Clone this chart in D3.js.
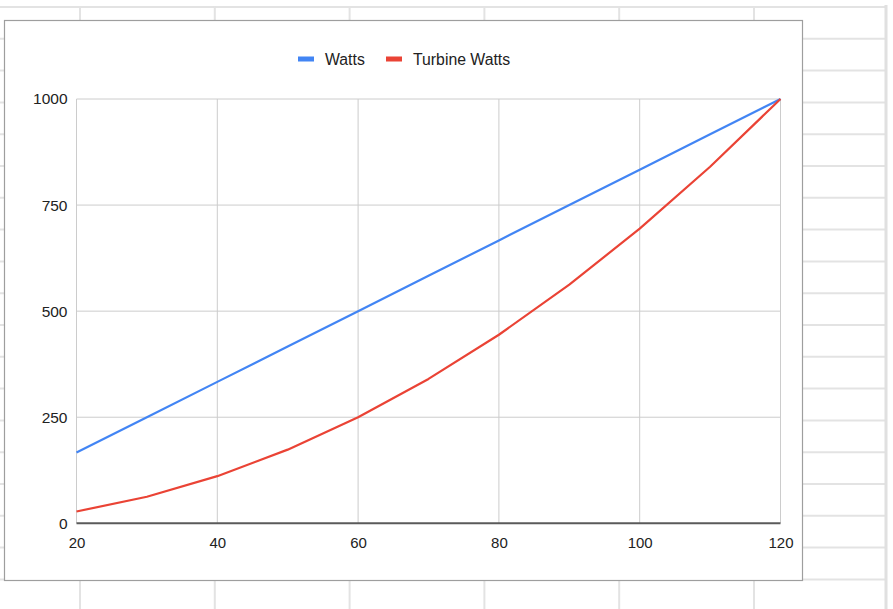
<!DOCTYPE html>
<html>
<head>
<meta charset="utf-8">
<script src="https://cdn.jsdelivr.net/npm/d3@7"></script>
<style>
  html, body { margin: 0; padding: 0; background: #fff; }
  svg { display: block; }
  text { font-family: Arial, "Liberation Sans", sans-serif; }
</style>
</head>
<body>
<svg id="chart" width="893" height="609"></svg>
<script>
// ---- data ----
const speeds = [20, 30, 40, 50, 60, 70, 80, 90, 100, 110, 120];
const watts = [166.7, 250, 333.3, 416.7, 500, 583.3, 666.7, 750, 833.3, 916.7, 1000];
const turbineWatts = [27.8, 62.5, 111.1, 173.6, 250, 340.3, 444.4, 562.5, 694.4, 840.3, 1000];
const seriesNames = ["Watts", "Turbine Watts"];
const xTicks = [20, 40, 60, 80, 100, 120];
const yTicks = [0, 250, 500, 750, 1000];

const colors = ["#4285F4", "#EA4335"];

const svg = d3.select("#chart");

// ---- spreadsheet background ----
const bg = svg.append("g");
const rowTop = 7, rowH = 31.8, nRows = 18;
for (let k = 0; k <= nRows; k++) {
  bg.append("line")
    .attr("x1", 0).attr("x2", 886)
    .attr("y1", rowTop + k * rowH).attr("y2", rowTop + k * rowH)
    .attr("stroke", "#e3e3e3").attr("stroke-width", 2);
}
const colLeft = 80, colW = 134.8;
for (let j = 0; j < 6; j++) {
  bg.append("line")
    .attr("x1", colLeft + j * colW).attr("x2", colLeft + j * colW)
    .attr("y1", 6).attr("y2", 609)
    .attr("stroke", "#e3e3e3").attr("stroke-width", 2);
}
bg.append("line")
  .attr("x1", 886).attr("x2", 886).attr("y1", 5).attr("y2", 609)
  .attr("stroke", "#e0e0e0").attr("stroke-width", 3);

// ---- chart box ----
svg.append("rect")
  .attr("x", 4.5).attr("y", 20.5).attr("width", 798).attr("height", 560)
  .attr("fill", "#fff").attr("stroke", "#9e9e9e").attr("stroke-width", 1.2);

// ---- scales ----
const x = d3.scaleLinear().domain([20, 120]).range([76.5, 780.5]);
const y = d3.scaleLinear().domain([0, 1000]).range([523.3, 99]);

const g = svg.append("g");

// gridlines
g.append("g").selectAll("line").data(xTicks).join("line")
  .attr("x1", d => x(d)).attr("x2", d => x(d))
  .attr("y1", y(1000)).attr("y2", y(0))
  .attr("stroke", "#cccccc").attr("stroke-width", 1);
g.append("g").selectAll("line").data(yTicks.filter(d => d > 0)).join("line")
  .attr("x1", x(20)).attr("x2", x(120))
  .attr("y1", d => y(d)).attr("y2", d => y(d))
  .attr("stroke", "#cccccc").attr("stroke-width", 1);

// axes labels via d3 axes
const xAxis = d3.axisBottom(x).tickValues(xTicks).tickSize(0).tickPadding(14).tickFormat(d3.format("d"));
const xg = g.append("g").attr("transform", `translate(0,${y(0)})`).call(xAxis);
xg.select(".domain").remove();
xg.selectAll("text").attr("font-size", 15).attr("fill", "#222").attr("font-family", "Arial, 'Liberation Sans', sans-serif");

const yAxis = d3.axisLeft(y).tickValues(yTicks).tickSize(0).tickPadding(9).tickFormat(d3.format("d"));
const yg = g.append("g").attr("transform", `translate(${x(20)},0)`).call(yAxis);
yg.select(".domain").remove();
yg.selectAll("text").attr("font-size", 15.5).attr("fill", "#222").attr("font-family", "Arial, 'Liberation Sans', sans-serif");

// baseline
g.append("line")
  .attr("x1", x(20)).attr("x2", x(120))
  .attr("y1", y(0)).attr("y2", y(0))
  .attr("stroke", "#5a5a5a").attr("stroke-width", 2);

// lines
const line = d3.line().x((d, i) => x(speeds[i])).y(d => y(d));
[watts, turbineWatts].forEach((s, i) => {
  g.append("path").datum(s)
    .attr("d", line)
    .attr("fill", "none")
    .attr("stroke", colors[i])
    .attr("stroke-width", 2.2)
    .attr("stroke-linejoin", "round");
});

// legend
const legend = svg.append("g");
const legendItems = [
  { name: seriesNames[0], color: colors[0], sx: 298 },
  { name: seriesNames[1], color: colors[1], sx: 386 }
];
legendItems.forEach(it => {
  legend.append("rect")
    .attr("x", it.sx).attr("y", 56.5).attr("width", 16).attr("height", 5)
    .attr("fill", it.color);
  legend.append("text")
    .attr("x", it.sx + 27).attr("y", 64.5)
    .attr("font-size", 15.8).attr("fill", "#222")
    .text(it.name);
});
</script>
</body>
</html>
